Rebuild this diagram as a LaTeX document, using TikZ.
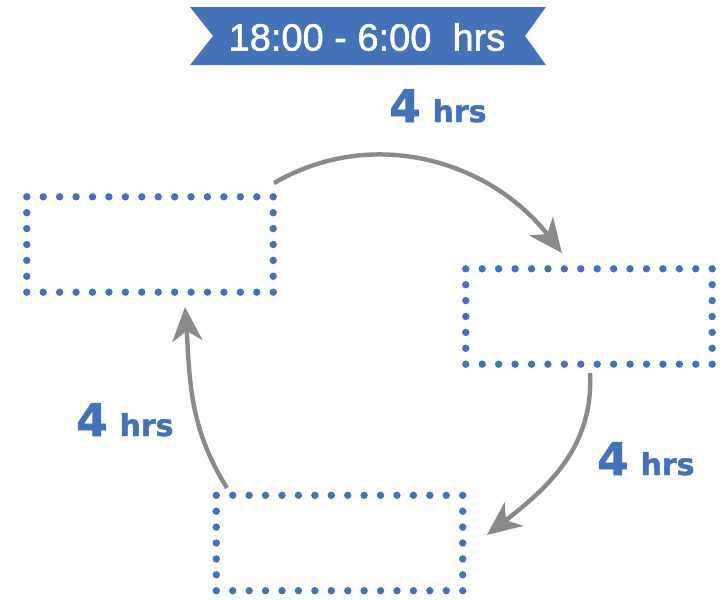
\documentclass[tikz,border=0pt]{standalone}
\usepackage{fontspec}
\setmainfont{Liberation Sans}
\newfontfamily\titlefont[FakeBold=1.5]{Liberation Sans}
\newfontfamily\labelfont[FakeBold=1.5]{DejaVu Sans}
\usetikzlibrary{arrows.meta,calc}
\definecolor{myblue}{HTML}{4472B8}
\definecolor{mygray}{HTML}{8A8A8A}
\tikzset{
  slotbox/.style={minimum width=246pt,minimum height=95pt,inner sep=0pt},
  cyclearrow/.style={draw=mygray,line width=4.4pt,-{Stealth[length=34pt,width=30pt,inset=10pt]}},
  hrslabel/.style={text=myblue,anchor=base west,inner sep=0pt,font=\labelfont\bfseries},
}
\newcommand{\bigfour}{{\fontsize{45}{45}\selectfont 4}}
\newcommand{\smallhrs}{{\fontsize{30}{30}\selectfont hrs}}
\begin{document}
\begin{tikzpicture}[x=1pt,y=1pt]
\useasboundingbox (0,0) rectangle (726,-600);
% banner
\fill[myblue] (190,-7) -- (546,-7) -- (525,-36) -- (546,-65) -- (190,-65) -- (213,-36) -- cycle;
\node[text=white,font=\titlefont\fontsize{38}{38}\selectfont] (title) at (367,-37) {18:00 - 6:00\ \ hrs};
% boxes
\node[slotbox] (b1) at (150,-244.5) {};
\node[slotbox] (b2) at (589,-316.5) {};
\node[slotbox] (b3) at (339.5,-543) {};
\foreach \n in {b1,b2,b3}{
  \foreach \i in {0,...,15}{
    \fill[myblue] ($(\n.north west)!\i/15!(\n.north east)$) circle (3.7);
    \fill[myblue] ($(\n.south west)!\i/15!(\n.south east)$) circle (3.7);
  }
  \foreach \i in {1,...,5}{
    \fill[myblue] ($(\n.north west)!\i/6!(\n.south west)$) circle (3.7);
    \fill[myblue] ($(\n.north east)!\i/6!(\n.south east)$) circle (3.7);
  }
}
% arrows
\coordinate (a1s) at (274,-183);
\coordinate (a1e) at (562,-253);
\coordinate (a2s) at (590,-373);
\coordinate (a2e) at (487,-535);
\coordinate (a3s) at (227,-488);
\coordinate (a3e) at (185,-307);
\draw[cyclearrow] (a1s) to[out=30,in=128] (a1e);
\draw[cyclearrow] (a2s) to[out=-87,in=38] (a2e);
\draw[cyclearrow] (a3s) to[out=122,in=-86] (a3e);
% labels
\node[hrslabel] (l1) at (389,-122) {\bigfour\hspace{12pt}\smallhrs};
\node[hrslabel] (l2) at (597,-475) {\bigfour\hspace{12pt}\smallhrs};
\node[hrslabel] (l3) at (76,-436) {\bigfour\hspace{12pt}\smallhrs};
\end{tikzpicture}
\end{document}
